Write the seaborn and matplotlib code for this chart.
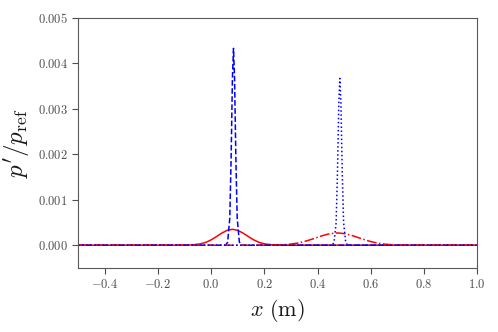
import numpy as np
import pandas as pd
import matplotlib
matplotlib.use("Agg")
import matplotlib.pyplot as plt
from matplotlib.ticker import FuncFormatter
import seaborn as sns

# red solid: broad pulse near x = 0.08
x_rojo1 = [-0.5, -0.12, -0.07, -0.04, -0.02, 0.0, 0.02, 0.04, 0.06, 0.08,
           0.10, 0.12, 0.14, 0.16, 0.18, 0.20, 0.23, 0.28, 1.0]
p_rojo1 = [0.0, 0.000001, 0.000007, 0.00003, 0.000063, 0.000117, 0.000189,
           0.000266, 0.000327, 0.00035, 0.000327, 0.000266, 0.000189,
           0.000117, 0.000063, 0.00003, 0.000007, 0.000001, 0.0]

# blue dashed: narrow spike near x = 0.084
x_azul1 = [-0.5, 0.055, 0.062, 0.07, 0.075, 0.080, 0.084, 0.088, 0.093,
           0.098, 0.106, 0.113, 1.0]
p_azul1 = [0.0, 0.0, 0.00007, 0.00059, 0.00189, 0.00368, 0.00433, 0.00368,
           0.00189, 0.00059, 0.00007, 0.0, 0.0]

# red dash-dot: broad pulse near x = 0.475
x_rojo2 = [-0.5, 0.20, 0.235, 0.265, 0.295, 0.325, 0.355, 0.385, 0.415,
           0.445, 0.475, 0.505, 0.535, 0.565, 0.595, 0.625, 0.655, 0.685,
           0.715, 0.75, 1.0]
p_rojo2 = [0.0, 0.0, 0.000002, 0.0000086, 0.0000215, 0.000046, 0.000088,
           0.000143, 0.000204, 0.000252, 0.00027, 0.000252, 0.000204,
           0.000143, 0.000088, 0.000046, 0.0000215, 0.0000086, 0.000002,
           0.0, 0.0]

# blue dotted: narrow spike near x = 0.484
x_azul2 = [-0.5, 0.455, 0.462, 0.47, 0.475, 0.480, 0.484, 0.488, 0.493,
           0.498, 0.506, 0.513, 1.0]
p_azul2 = [0.0, 0.0, 0.00006, 0.0005, 0.0016, 0.00312, 0.00367, 0.00312,
           0.0016, 0.0005, 0.00006, 0.0, 0.0]

sns.set_style("ticks")
plt.rcParams["font.family"] = "serif"
plt.rcParams["font.serif"] = ["cmr10", "DejaVu Serif"]
plt.rcParams["mathtext.fontset"] = "cm"
plt.rcParams["axes.formatter.use_mathtext"] = True

fig = plt.figure(figsize=(4.98, 3.32), dpi=100)
ax = fig.add_axes([0.157, 0.193, 0.801, 0.753])

sns.lineplot(x=x_rojo1, y=p_rojo1, ax=ax, color="red", lw=1.1, linestyle="-")
sns.lineplot(x=x_azul1, y=p_azul1, ax=ax, color="blue", lw=1.1, linestyle="--")
sns.lineplot(x=x_rojo2, y=p_rojo2, ax=ax, color="red", lw=1.1, linestyle="-.")
sns.lineplot(x=x_azul2, y=p_azul2, ax=ax, color="blue", lw=1.1, linestyle=":")

ax.set_xlim(-0.5, 1.0)
ax.set_ylim(-0.0005, 0.005)
ax.set_yticks([0.0, 0.001, 0.002, 0.003, 0.004, 0.005])
ax.yaxis.set_major_formatter(FuncFormatter(lambda v, pos: r"$\mathdefault{%.3f}$" % v))

for s in ax.spines.values():
    s.set_color("0.35")
ax.tick_params(colors="0.3", labelsize=9, length=4)

ax.set_xlabel(r"$x\ (\mathrm{m})$", fontsize=16, color="0.1")
ax.set_ylabel(r"$p'/p_{\mathrm{ref}}$", fontsize=18, color="0.1")

plt.savefig("out.png")
plt.close()
